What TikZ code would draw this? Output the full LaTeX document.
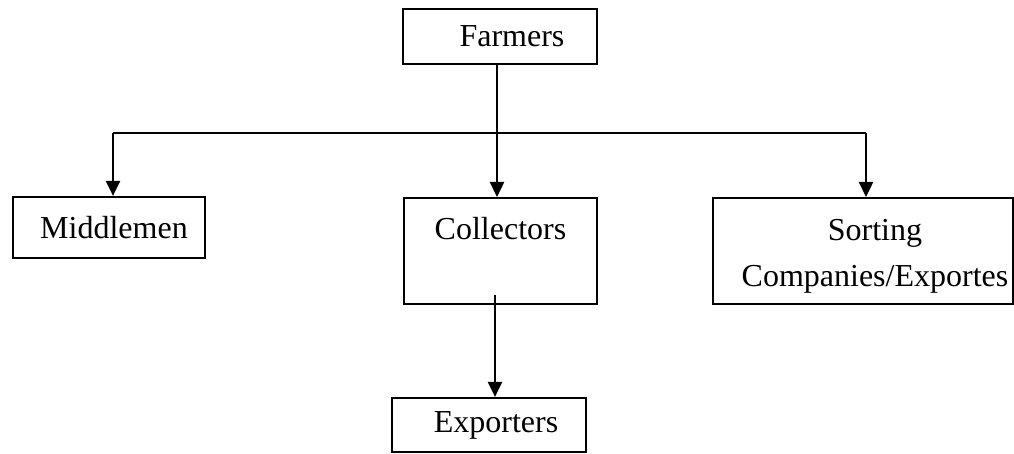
\documentclass[tikz,border=0pt]{standalone}
\usepackage{fontspec}
\setmainfont{Liberation Serif}
\usetikzlibrary{arrows.meta}
\begin{document}
\begin{tikzpicture}[x=1pt,y=1pt,
  box/.style={draw=black, line width=2.2pt, inner sep=0pt, font=\fontsize{32}{46}\selectfont},
  conn/.style={line width=2.4pt},
  arr/.style={line width=2.4pt, -{Triangle[width=14pt,length=15pt]}}]
\useasboundingbox (0,0) rectangle (1014,-454);
\node[box, minimum width=194pt, minimum height=55pt] (farm) at (500,-36.5) {\hspace*{24pt}Farmers};
\node[box, minimum width=192pt, minimum height=61pt] (mid) at (109,-227.5) {\hspace*{10pt}Middlemen};
\node[box, minimum width=193pt, text height=41pt, text depth=65pt, anchor=north] (col) at (500.5,-197) {Collectors};
\node[box, minimum width=300pt, text height=88pt, text depth=18pt, anchor=north, align=center] (sort) at (863,-197) {\hspace*{24pt}Sorting\\\hspace*{24pt}Companies/Exportes};
\node[box, minimum width=194pt, minimum height=54pt] (exp) at (489,-425) {\hspace*{14pt}Exporters};
\coordinate (hl) at (113,-133);
\coordinate (hr) at (866,-133);
\coordinate (fs) at (497,-64);
\coordinate (cs) at (495,-295);
\draw[conn] (hl) -- (hr);
\draw[arr] (hl) -- (hl |- mid.north);
\draw[arr] (hr) -- (hr |- sort.north);
\draw[arr] (fs) -- (fs |- col.north);
\draw[arr] (cs) -- (cs |- exp.north);
\end{tikzpicture}
\end{document}
